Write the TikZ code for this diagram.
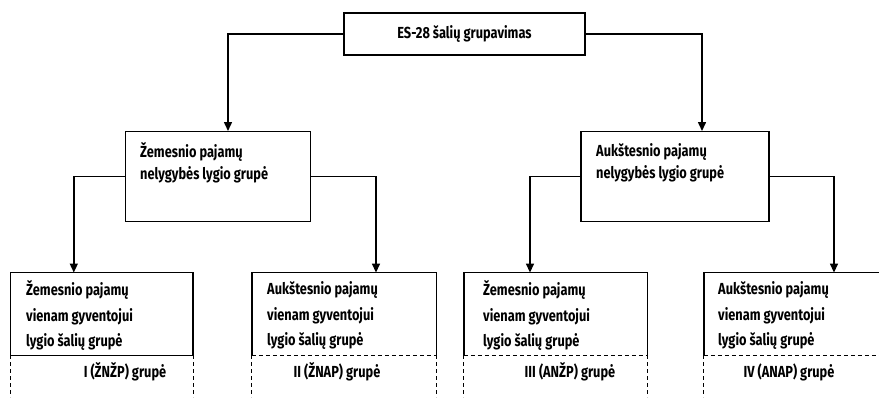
\documentclass[tikz,border=0pt]{standalone}
\usepackage{fontspec}
\setmainfont{Fira Sans}[FakeStretch=0.8]
\usetikzlibrary{arrows.meta}
\begin{document}
\begin{tikzpicture}[x=1pt,y=-1pt,
  box/.style={draw, line width=1.4pt, inner sep=0pt},
  frame/.style={inner sep=0pt},
  txt/.style={inner sep=0pt, anchor=west, align=left, font=\bfseries\fontsize{16}{22}\selectfont},
  txtb/.style={inner sep=0pt, anchor=west, align=left, font=\bfseries\fontsize{16}{25.5}\selectfont},
  lab/.style={inner sep=0pt, font=\bfseries\fontsize{16}{18}\selectfont},
  arr/.style={line width=1.5pt, -{Triangle[length=9pt,width=8pt]}},
  edge/.style={line width=1.4pt},
  dsh/.style={line width=1.1pt, dash pattern=on 4pt off 3pt}]
\useasboundingbox (0,0) rectangle (879,397);
% top
\node[box, minimum width=241pt, minimum height=42pt, font=\bfseries\fontsize{16}{18}\selectfont] (top) at (464.5,34) {ES-28 šalių grupavimas};
% middle
\node[box, minimum width=185pt, minimum height=90pt] (midL) at (218,176.7) {};
\node[box, minimum width=188pt, minimum height=90pt] (midR) at (675,176.7) {};
\node[txt] (tL) at (140,163) {Žemesnio pajamų\\nelygybės lygio grupė};
\node[txt] (tR) at (596,163) {Aukštesnio pajamų\\nelygybės lygio grupė};
% bottom frames
\node[frame, minimum width=182.3pt, minimum height=82.3pt] (b1) at (101.8,313.9) {};
\node[frame, minimum width=184pt, minimum height=82.3pt] (b2) at (344,313.9) {};
\node[frame, minimum width=183pt, minimum height=82.3pt] (b3) at (555.5,313.9) {};
\node[frame, minimum width=178pt, minimum height=82.3pt] (b4) at (793,313.9) {};
\foreach \b in {b1,b2,b3,b4}{
  \draw[edge] (\b.south west) -- (\b.north west) -- (\b.north east) -- (\b.south east);
  \draw[dsh] (\b.south west) -- ++(0,42);
  \draw[dsh] (\b.south east) -- ++(0,42);
}
\draw[edge] (b1.south west) -- (b1.south east);
\draw[dsh] (b2.south west) -- (b2.south east);
\draw[dsh] (b3.south west) -- (b3.south east);
\draw[dsh] (b4.south west) -- (b4.south east);
\node[txtb] (t1) at (26,315.5) {Žemesnio pajamų\\vienam gyventojui\\lygio šalių grupė};
\node[txtb] (t2) at (267,315.5) {Aukštesnio pajamų\\vienam gyventojui\\lygio šalių grupė};
\node[txtb] (t3) at (483,315.5) {Žemesnio pajamų\\vienam gyventojui\\lygio šalių grupė};
\node[txtb] (t4) at (718,315.5) {Aukštesnio pajamų\\vienam gyventojui\\lygio šalių grupė};
\node[lab] (g1) at (125,372) {I (ŽNŽP) grupė};
\node[lab] (g2) at (337,372) {II (ŽNAP) grupė};
\node[lab] (g3) at (570,372) {III (ANŽP) grupė};
\node[lab] (g4) at (789,372) {IV (ANAP) grupė};
% connectors
\draw[arr] (top.west) -| ([xshift=10pt]midL.north);
\draw[arr] (top.east) -| ([xshift=27pt]midR.north);
\draw[arr] (midL.west) -| ([xshift=-28pt]b1.north);
\draw[arr] (midL.east) -| ([xshift=32pt]b2.north);
\draw[arr] (midR.west) -| ([xshift=-25.5pt]b3.north);
\draw[arr] (midR.east) -| ([xshift=41pt]b4.north);
\end{tikzpicture}
\end{document}
